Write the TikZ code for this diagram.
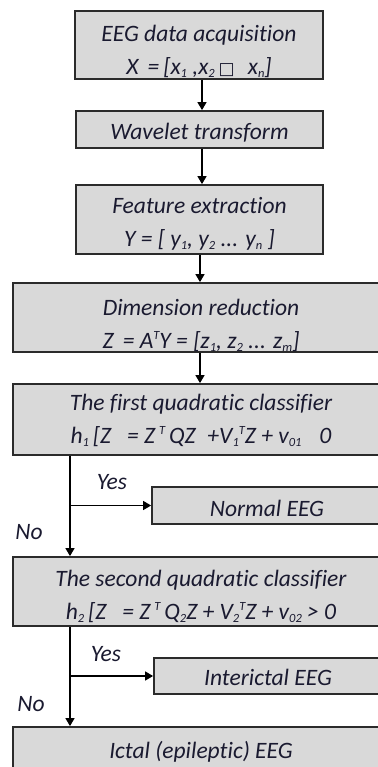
\documentclass[tikz,border=0pt]{standalone}
\usepackage{fontspec}
\setmainfont{Carlito}[Ligatures=NoCommon]
\newfontfamily\symfont{DejaVu Sans}
\usetikzlibrary{arrows.meta}
\definecolor{boxfill}{HTML}{D9D9D9}
\definecolor{boxline}{HTML}{2B2B2B}
\definecolor{txt}{HTML}{1A1A30}
\newcommand{\sbs}[1]{\raisebox{-3pt}{\fontsize{12.5}{12.5}\selectfont #1}}
\newcommand{\sps}[1]{\raisebox{9pt}{\fontsize{12.5}{12.5}\selectfont #1}}
\newcommand{\lift}[1]{\rule{0pt}{#1}}
\tikzset{
  box/.style={draw=boxline, fill=boxfill, line width=1.8pt, inner sep=0pt,
    align=center, text=txt, font=\fontsize{23.5}{32.5}\selectfont\itshape},
  arr/.style={line width=1.4pt, draw=black, -{Triangle[length=8pt,width=9pt]}},
  lbl/.style={text=txt, font=\fontsize{23.5}{26}\selectfont\itshape, inner sep=0pt},
}
\begin{document}
\begin{tikzpicture}[x=1pt,y=-1pt]
\useasboundingbox (0,0) rectangle (377,767);
\fill[white] (0,0) rectangle (377,767);
\node[box, minimum width=248pt, minimum height=68pt] (b1) at (199,45)
  {\lift{29pt}EEG data acquisition\\ X \,=\,[x\sbs{1} ,x\sbs{2}\,{\upshape\symfont\fontsize{17}{17}\selectfont □}\,\, x\sbs{n}]};
\node[box, minimum width=247pt, minimum height=37pt] (b2) at (199.5,129.5)
  {\lift{22.5pt}Wavelet transform};
\node[box, minimum width=247pt, minimum height=69pt] (b3) at (199.5,219.5)
  {\lift{24.7pt}Feature extraction\\ Y = [ y\sbs{1}, y\sbs{2} ... y\sbs{n} ]};
\node[box, minimum width=376pt, minimum height=69pt] (b4) at (201,317.5)
  {\lift{31.7pt}Dimension reduction\\ Z \,= A\sps{T}Y = [z\sbs{1}, z\sbs{2} ... z\sbs{m}]};
\node[box, minimum width=376pt, minimum height=71pt] (b5) at (201,419.5)
  {\lift{18pt}The first quadratic classifier\\ h\sbs{1}\,[Z\hspace{16pt}= Z\,\sps{T}\,QZ\,\,\,+V\sbs{1}\sps{T}Z + v\sbs{01}\hspace{18pt}0};
\node[box, minimum width=230pt, minimum height=37pt] (n1) at (267,505.5)
  {\lift{22.5pt}Normal EEG};
\node[box, minimum width=376pt, minimum height=69pt] (b6) at (201,591.5)
  {\lift{25.7pt}The second quadratic classifier\\ h\sbs{2}\,[Z\hspace{16pt}= Z\,\sps{T}\,Q\sbs{2}Z + V\sbs{2}\sps{T}Z + v\sbs{02} > 0};
\node[box, minimum width=228pt, minimum height=36pt] (n2) at (268,676)
  {\lift{20pt}Interictal EEG};
\node[box, minimum width=376pt, minimum height=50pt] (b7) at (201,752)
  {Ictal (epileptic) EEG};
\coordinate (ax) at (202,0);
\coordinate (ay) at (200,0);
\coordinate (bx) at (70,0);
\draw[arr] (ax |- b1.south) -- (ax |- b2.north);
\draw[arr] (ax |- b2.south) -- (ax |- b3.north);
\draw[arr] (ay |- b3.south) -- (ay |- b4.north);
\draw[arr] (ay |- b4.south) -- (ay |- b5.north);
\draw[arr] (bx |- b5.south) -- (bx |- b6.north);
\draw[arr] (bx |- n1.west) -- (n1.west);
\draw[arr] (bx |- b6.south) -- (bx |- b7.north);
\draw[arr] (bx |- n2.west) -- (n2.west);
\node[lbl] (y1) at (112,482) {Yes};
\node[lbl] (no1) at (29,532) {No};
\node[lbl] (y2) at (106,654) {Yes};
\node[lbl] (no2) at (31,704) {No};
\end{tikzpicture}
\end{document}
